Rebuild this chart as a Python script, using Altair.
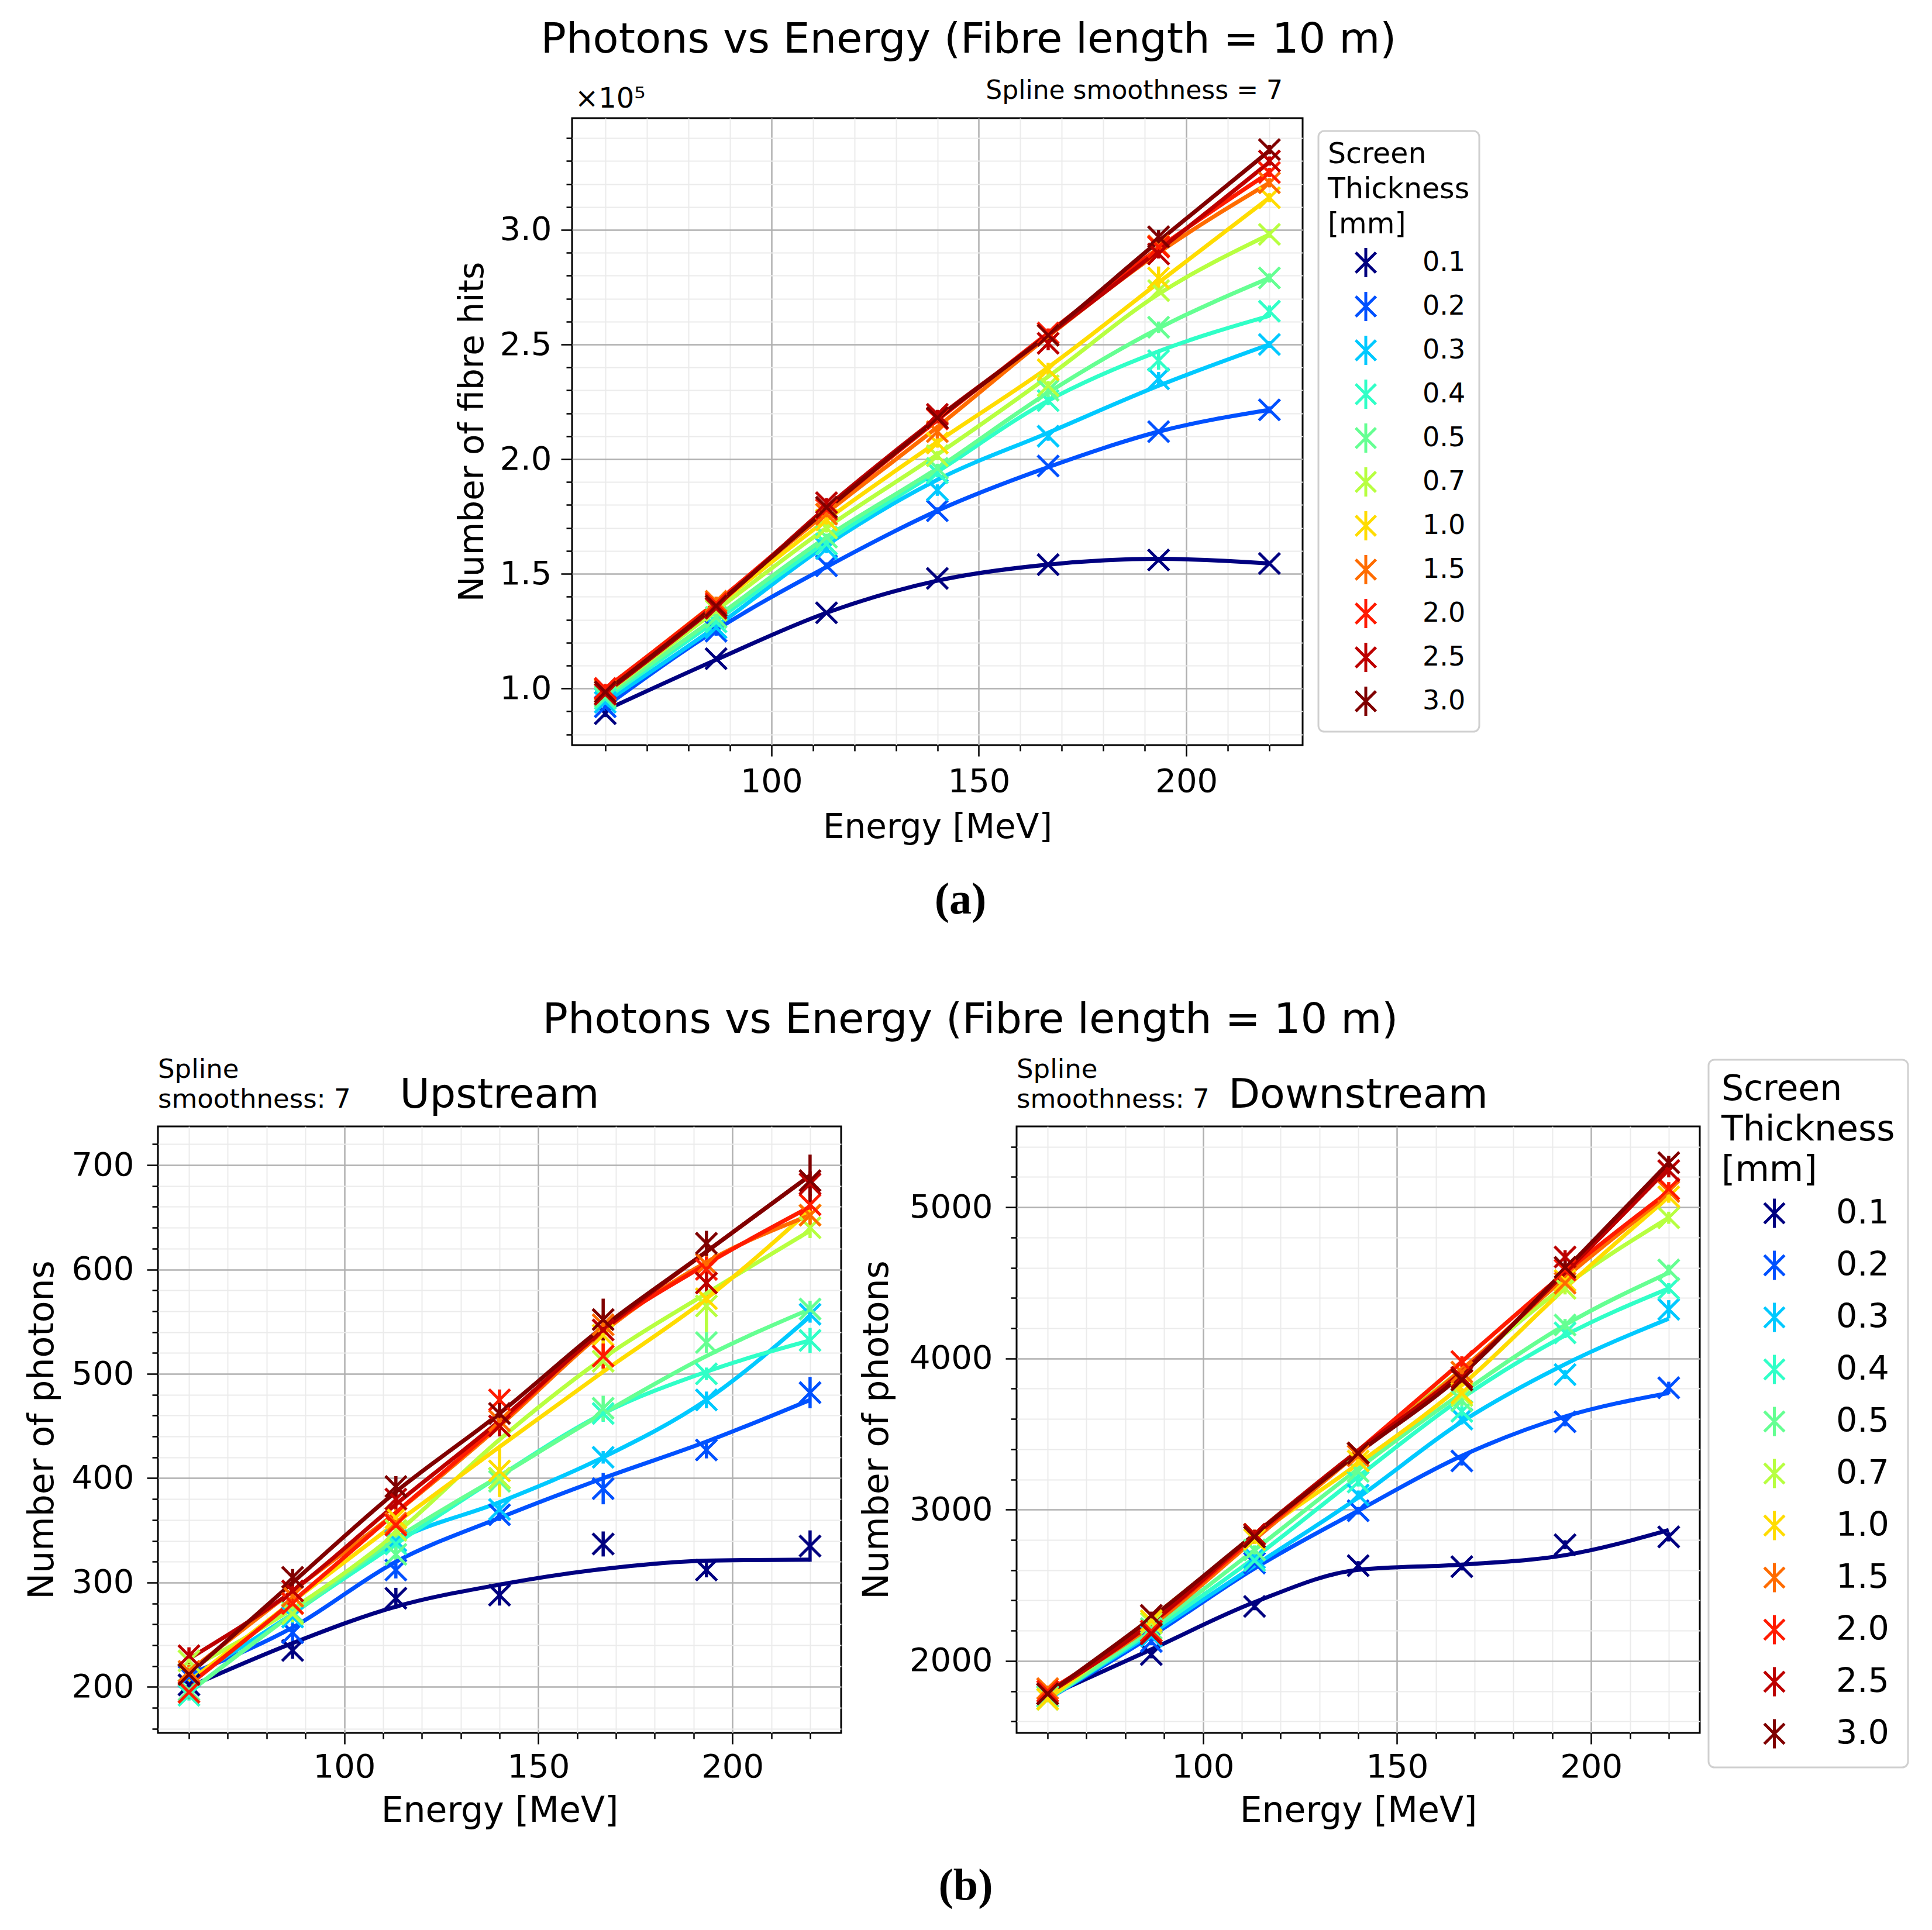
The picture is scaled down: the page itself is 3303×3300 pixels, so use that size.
import altair as alt
import pandas as pd

energy = [60, 86.7, 113.3, 140, 166.7, 193.3, 220]
thickness = ["0.1", "0.2", "0.3", "0.4", "0.5", "0.7", "1.0", "1.5", "2.0", "2.5", "3.0"]
colours = ["#000080", "#0051ff", "#00c9ff", "#30ffc7", "#65ff92", "#b7ff40",
           "#ffdc00", "#ff6c00", "#ff1b00", "#bd0000", "#800000"]

x_major = [100, 150, 200]
x_minor = [60, 70, 80, 90, 110, 120, 130, 140, 160, 170, 180, 190, 210, 220]

hits_major = [1.0, 1.5, 2.0, 2.5, 3.0]
hits_minor = [0.8, 0.9, 1.1, 1.2, 1.3, 1.4, 1.6, 1.7, 1.8, 1.9, 2.1, 2.2, 2.3, 2.4,
              2.6, 2.7, 2.8, 2.9, 3.1, 3.2, 3.3, 3.4]
up_major = [200, 300, 400, 500, 600, 700]
up_minor = [160, 180, 220, 240, 260, 280, 320, 340, 360, 380, 420, 440, 460, 480,
            520, 540, 560, 580, 620, 640, 660, 680, 720]
down_major = [2000, 3000, 4000, 5000]
down_minor = [1600, 1800, 2200, 2400, 2600, 2800, 3200, 3400, 3600, 3800, 4200, 4400,
              4600, 4800, 5200, 5400]

# fibre hits, in units of 1e5
hits_pts = {
    "0.1": [0.89, 1.13, 1.33, 1.48, 1.54, 1.56, 1.545],
    "0.2": [0.92, 1.25, 1.535, 1.775, 1.97, 2.12, 2.215],
    "0.3": [0.94, 1.265, 1.61, 1.865, 2.10, 2.35, 2.50],
    "0.4": [0.955, 1.29, 1.63, 1.94, 2.255, 2.43, 2.645],
    "0.5": [0.965, 1.31, 1.66, 1.96, 2.30, 2.575, 2.79],
    "0.7": [0.975, 1.34, 1.70, 2.015, 2.32, 2.735, 2.98],
    "1.0": [0.985, 1.36, 1.735, 2.07, 2.39, 2.79, 3.14],
    "1.5": [0.995, 1.38, 1.76, 2.12, 2.54, 2.93, 3.205],
    "2.0": [1.00, 1.37, 1.78, 2.175, 2.55, 2.925, 3.25],
    "2.5": [0.975, 1.35, 1.81, 2.195, 2.505, 2.895, 3.30],
    "3.0": [0.985, 1.36, 1.79, 2.18, 2.54, 2.97, 3.35],
}
hits_fit = {
    "0.1": [0.905, 1.125, 1.33, 1.47, 1.54, 1.565, 1.545],
    "0.2": [0.92, 1.255, 1.53, 1.775, 1.965, 2.12, 2.215],
    "0.3": [0.94, 1.27, 1.625, 1.91, 2.115, 2.32, 2.50],
    "0.4": [0.955, 1.295, 1.64, 1.945, 2.255, 2.47, 2.625],
    "0.5": [0.965, 1.31, 1.66, 1.96, 2.29, 2.57, 2.79],
    "0.7": [0.975, 1.34, 1.70, 2.02, 2.36, 2.72, 2.98],
    "1.0": [0.985, 1.36, 1.735, 2.075, 2.40, 2.77, 3.14],
    "1.5": [0.995, 1.375, 1.765, 2.14, 2.535, 2.90, 3.205],
    "2.0": [1.0, 1.375, 1.78, 2.17, 2.55, 2.92, 3.25],
    "2.5": [0.98, 1.36, 1.79, 2.18, 2.54, 2.91, 3.295],
    "3.0": [0.985, 1.365, 1.78, 2.175, 2.545, 2.95, 3.345],
}
hits_err = {
    "0.1": [0.015, 0.01, 0.01, 0.01, 0.01, 0.01, 0.01],
    "0.2": [0.02, 0.02, 0.015, 0.015, 0.01, 0.01, 0.015],
    "0.3": [0.015, 0.02, 0.02, 0.025, 0.02, 0.03, 0.015],
    "0.4": [0.015, 0.015, 0.02, 0.02, 0.02, 0.04, 0.025],
    "0.5": [0.015, 0.015, 0.015, 0.02, 0.03, 0.025, 0.02],
    "0.7": [0.015, 0.015, 0.02, 0.02, 0.02, 0.02, 0.015],
    "1.0": [0.015, 0.015, 0.02, 0.02, 0.03, 0.05, 0.02],
    "1.5": [0.015, 0.02, 0.02, 0.03, 0.02, 0.03, 0.02],
    "2.0": [0.02, 0.015, 0.02, 0.02, 0.02, 0.02, 0.02],
    "2.5": [0.02, 0.015, 0.02, 0.02, 0.03, 0.02, 0.02],
    "3.0": [0.02, 0.02, 0.02, 0.02, 0.02, 0.03, 0.02],
}

up_pts = {
    "0.1": [202, 235, 285, 288, 337, 312, 335],
    "0.2": [210, 252, 312, 365, 390, 427, 482],
    "0.3": [212, 267, 340, 370, 420, 475, 557],
    "0.4": [192, 270, 337, 400, 462, 500, 532],
    "0.5": [197, 272, 327, 397, 467, 530, 562],
    "0.7": [225, 270, 350, 400, 512, 565, 640],
    "1.0": [212, 280, 362, 407, 537, 572, 652],
    "1.5": [215, 287, 357, 455, 547, 605, 652],
    "2.0": [195, 280, 355, 475, 517, 600, 662],
    "2.5": [230, 292, 380, 450, 542, 587, 682],
    "3.0": [212, 305, 392, 462, 552, 625, 685],
}
up_fit = {
    "0.1": [200, 242, 277, 298, 313, 321, 322],
    "0.2": [212, 257, 320, 362, 400, 435, 475],
    "0.3": [207, 270, 340, 377, 420, 475, 555],
    "0.4": [195, 270, 337, 402, 462, 502, 532],
    "0.5": [195, 270, 342, 402, 462, 517, 562],
    "0.7": [217, 275, 347, 437, 515, 577, 637],
    "1.0": [205, 282, 357, 430, 502, 572, 657],
    "1.5": [215, 292, 367, 450, 540, 607, 652],
    "2.0": [202, 282, 367, 452, 542, 605, 660],
    "2.5": [227, 292, 375, 455, 542, 617, 690],
    "3.0": [212, 300, 387, 462, 545, 617, 690],
}
up_err = {
    "0.1": [5, 8, 10, 10, 12, 7, 15],
    "0.2": [6, 12, 8, 6, 15, 8, 15],
    "0.3": [6, 6, 6, 6, 6, 8, 8],
    "0.4": [5, 6, 8, 6, 8, 6, 12],
    "0.5": [5, 6, 8, 8, 12, 10, 8],
    "0.7": [6, 8, 8, 8, 10, 25, 10],
    "1.0": [6, 8, 8, 25, 15, 8, 8],
    "1.5": [6, 8, 8, 8, 10, 10, 10],
    "2.0": [6, 8, 8, 10, 12, 12, 10],
    "2.5": [8, 8, 10, 10, 10, 12, 12],
    "3.0": [6, 8, 10, 10, 20, 12, 25],
}

down_pts = {
    "0.1": [1782, 2042, 2360, 2630, 2623, 2768, 2820],
    "0.2": [1765, 2128, 2647, 2993, 3322, 3581, 3806],
    "0.3": [1765, 2163, 2682, 3097, 3599, 3893, 4325],
    "0.4": [1747, 2197, 2664, 3183, 3650, 4169, 4463],
    "0.5": [1765, 2214, 2734, 3253, 3720, 4221, 4585],
    "0.7": [1747, 2249, 2837, 3374, 3754, 4463, 4930],
    "1.0": [1747, 2266, 2803, 3322, 3771, 4515, 5069],
    "1.5": [1817, 2197, 2837, 3356, 3910, 4498, 5104],
    "2.0": [1799, 2197, 2837, 3374, 3979, 4585, 5121],
    "2.5": [1782, 2180, 2837, 3374, 3875, 4671, 5242],
    "3.0": [1782, 2301, 2820, 3374, 3858, 4602, 5294],
}
down_fit = {
    "0.1": [1765, 2076, 2388, 2602, 2637, 2699, 2865],
    "0.2": [1747, 2163, 2612, 2993, 3356, 3616, 3771],
    "0.3": [1747, 2180, 2630, 3080, 3581, 3962, 4263],
    "0.4": [1747, 2197, 2682, 3218, 3737, 4152, 4463],
    "0.5": [1747, 2214, 2734, 3270, 3771, 4221, 4567],
    "0.7": [1747, 2266, 2837, 3391, 3927, 4481, 4931],
    "1.0": [1747, 2284, 2820, 3304, 3823, 4464, 5069],
    "1.5": [1799, 2232, 2803, 3374, 3927, 4533, 5086],
    "2.0": [1799, 2249, 2820, 3391, 3979, 4567, 5104],
    "2.5": [1782, 2249, 2837, 3391, 3910, 4567, 5260],
    "3.0": [1782, 2284, 2837, 3374, 3893, 4585, 5294],
}
down_err = {
    "0.1": [20, 25, 25, 30, 25, 30, 30],
    "0.2": [20, 25, 25, 25, 30, 30, 40],
    "0.3": [20, 25, 25, 30, 35, 30, 60],
    "0.4": [20, 25, 30, 30, 35, 35, 35],
    "0.5": [20, 25, 30, 30, 35, 40, 35],
    "0.7": [20, 25, 30, 30, 35, 40, 40],
    "1.0": [20, 25, 30, 30, 35, 40, 40],
    "1.5": [20, 25, 30, 30, 35, 45, 45],
    "2.0": [20, 25, 30, 30, 35, 45, 45],
    "2.5": [20, 25, 30, 30, 35, 45, 45],
    "3.0": [20, 25, 30, 30, 35, 45, 45],
}

TITLE = "Photons vs Energy (Fibre length = 10 m)"
XMARK = "M-1,-1L1,1M-1,1L1,-1"
XBAR = "M-1,-1L1,1M-1,1L1,-1M0,-1.45L0,1.45"
one_row = pd.DataFrame({"k": [0]})


def long_df(pts, fit, err):
    rows = []
    for t in thickness:
        for e, p, f, s in zip(energy, pts[t], fit[t], err[t]):
            rows.append({"thickness": t, "energy": e, "value": p, "fit": f,
                         "lo": p - s, "hi": p + s})
    return pd.DataFrame(rows)


def note(text, x, y, size, align="center", font="DejaVu Sans", weight="normal", line_height=None):
    props = dict(align=align, baseline="alphabetic", fontSize=size, font=font,
                 fontWeight=weight, color="black")
    if line_height:
        props["lineBreak"] = "\n"
        props["lineHeight"] = line_height
    return alt.Chart(one_row).mark_text(**props).encode(
        x=alt.value(x), y=alt.value(y), text=alt.value(text))


def make_legend(x, y, sym_off, lab_off, lab_size, title_size, title_lh, pad, row_pad, title_pad):
    return alt.Legend(
        title=["Screen", "Thickness", "[mm]"], orient="none", legendX=x, legendY=y,
        symbolType=XBAR, symbolSize=1200, symbolStrokeWidth=5,
        symbolFillColor="transparent", symbolOffset=sym_off, labelOffset=lab_off,
        labelFontSize=lab_size, titleFontSize=title_size, titleLineHeight=title_lh,
        titleFontWeight="normal", titleLimit=600, labelLimit=300,
        padding=pad, rowPadding=row_pad, titlePadding=title_pad,
        strokeColor="#d0d0d0", cornerRadius=10, fillColor="white")


def panel(df, y_dom, y_major, y_minor, y_fmt, y_title, width, height, legend,
          pad_x, pad_y, tpad_x, tpad_y, title_size, notes):
    xs = alt.Scale(domain=[52, 228], nice=False, zero=False)
    ys = alt.Scale(domain=y_dom, nice=False, zero=False)
    col = alt.Color("thickness:N", scale=alt.Scale(domain=thickness, range=colours),
                    legend=legend)
    tick = dict(tickColor="black", tickWidth=2.5, domain=False, grid=True)
    minor = dict(labels=False, tickSize=10, title=None, gridColor="#ebebeb", gridWidth=2, **tick)
    major = dict(tickSize=19, labelFontSize=56, labelColor="black",
                 titleFontSize=title_size, titleFontWeight="normal", titleColor="black",
                 gridColor="#b0b0b0", gridWidth=2.5, **tick)

    # error bars carry the minor ticks and minor grid
    bars = alt.Chart(df).mark_rule(strokeWidth=5.5).encode(
        x=alt.X("energy:Q", scale=xs, axis=alt.Axis(orient="bottom", values=x_minor, **minor)),
        y=alt.Y("lo:Q", scale=ys, axis=alt.Axis(orient="left", values=y_minor, **minor)),
        y2="hi:Q", color=col)
    # spline curves carry the major ticks, labels and grid
    lines = alt.Chart(df).mark_line(interpolate="monotone", strokeWidth=7).encode(
        x=alt.X("energy:Q", scale=xs, axis=alt.Axis(
            orient="bottom", values=x_major, labelPadding=pad_x, title="Energy [MeV]",
            titlePadding=tpad_x, **major)),
        y=alt.Y("fit:Q", scale=ys, axis=alt.Axis(
            orient="left", values=y_major, format=y_fmt, labelPadding=pad_y, title=y_title,
            titlePadding=tpad_y, **major)),
        color=col)
    marks = alt.Chart(df).mark_point(shape=XMARK, filled=False, size=1300, strokeWidth=5,
                                     opacity=1).encode(
        x=alt.X("energy:Q", scale=xs, axis=None),
        y=alt.Y("value:Q", scale=ys, axis=None), color=col)

    return alt.layer(bars, lines, marks, *notes).resolve_axis(
        x="independent", y="independent").properties(width=width, height=height)


top = panel(
    long_df(hits_pts, hits_fit, hits_err), [0.753, 3.487], hits_major, hits_minor, ".1f",
    "Number of fibre hits", 1249, 1072,
    make_legend(1276, 22, 42, 74, 46, 49, 60, 16, 3, 17),
    16, 16, 22, 16, 58,
    [note(TITLE, 678, -112, 72),
     note("Spline smoothness = 7", 1215, -33, 44, "right"),
     note("×10⁵", 5, -18, 48, "left"),
     note("(a)", 664, 1360, 76, font="Liberation Serif", weight="bold")])

up = panel(
    long_df(up_pts, up_fit, up_err), [156, 737], up_major, up_minor, "d",
    "Number of photons", 1168, 1037, None,
    12, 22, 18, 19, 60,
    [note(TITLE, 1389, -160, 72),
     note("Upstream", 584, -32, 70),
     note("Spline\nsmoothness: 7", 0, -83, 45, "left", line_height=51),
     note("(b)", 1381, 1322, 76, font="Liberation Serif", weight="bold")])

down = panel(
    long_df(down_pts, down_fit, down_err), [1524, 5534], down_major, down_minor, "d",
    "Number of photons", 1168, 1037,
    make_legend(1183, -114, 62, 77, 57, 60, 69, 22, 18, 14),
    12, 22, 18, 24, 60,
    [note("Downstream", 584, -32, 70),
     note("Spline\nsmoothness: 7", 0, -83, 45, "left", line_height=51)])

spacer = alt.Chart(one_row).mark_point(opacity=0).encode(
    x=alt.X("k:Q", axis=None), y=alt.Y("k:Q", axis=None)
).properties(width=708, height=1072, view=alt.ViewBackground(stroke="transparent"))

top_row = alt.hconcat(spacer, top, spacing=0, bounds="flush").resolve_scale(color="independent")
bottom_row = alt.hconcat(up, down, spacing=300, bounds="flush").resolve_scale(color="independent")

chart = alt.vconcat(
    top_row, bottom_row, spacing=127,
    padding={"left": 32, "top": 22, "right": 5, "bottom": 5}
).resolve_scale(color="independent").configure(
    font="DejaVu Sans"
).configure_view(stroke="black", strokeWidth=3).configure_legend(strokeWidth=3)

chart.save("out.html", embed_options={"renderer": "svg", "actions": False})
